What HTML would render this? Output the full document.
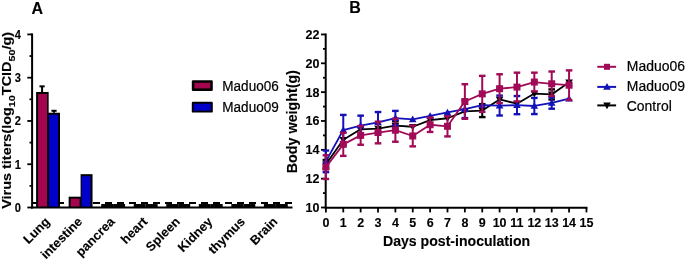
<!DOCTYPE html>
<html><head><meta charset="utf-8"><style>
html,body{margin:0;padding:0;background:#fff;}
svg{will-change:transform;}
text{stroke:#000;stroke-width:0.12px;}
.r{stroke-width:0.2px;}
svg{display:block;}
</style></head><body>
<svg width="685" height="261" viewBox="0 0 685 261">
<rect width="685" height="261" fill="#fff"/>
<line x1="33" y1="203" x2="292" y2="203" stroke="#000" stroke-width="2" stroke-dasharray="7 5"/>
<line x1="42.07" y1="86.34" x2="42.07" y2="91.97" stroke="#000" stroke-width="2"/>
<line x1="39.47" y1="86.34" x2="44.67" y2="86.34" stroke="#000" stroke-width="2"/>
<rect x="36.10" y="91.97" width="12.55" height="115.53" fill="#000"/>
<rect x="38.10" y="93.97" width="8.95" height="113.53" fill="#a3064f"/>
<line x1="54.02" y1="110.79" x2="54.02" y2="112.74" stroke="#000" stroke-width="2"/>
<line x1="51.42" y1="110.79" x2="56.62" y2="110.79" stroke="#000" stroke-width="2"/>
<rect x="48.05" y="112.74" width="11.95" height="94.76" fill="#000"/>
<rect x="49.05" y="114.74" width="8.95" height="92.76" fill="#0000c8"/>
<rect x="68.64" y="196.68" width="12.55" height="10.82" fill="#000"/>
<rect x="70.64" y="198.68" width="8.95" height="8.82" fill="#a3064f"/>
<rect x="80.59" y="174.18" width="11.95" height="33.32" fill="#000"/>
<rect x="81.59" y="176.18" width="8.95" height="31.32" fill="#0000c8"/>
<rect x="101.18" y="204.04" width="11.95" height="3.46" fill="#000"/>
<rect x="113.13" y="204.04" width="11.95" height="3.46" fill="#000"/>
<rect x="133.72" y="204.04" width="11.95" height="3.46" fill="#000"/>
<rect x="145.67" y="204.04" width="11.95" height="3.46" fill="#000"/>
<rect x="166.26" y="204.04" width="11.95" height="3.46" fill="#000"/>
<rect x="178.21" y="204.04" width="11.95" height="3.46" fill="#000"/>
<rect x="198.80" y="204.04" width="11.95" height="3.46" fill="#000"/>
<rect x="210.75" y="204.04" width="11.95" height="3.46" fill="#000"/>
<rect x="231.34" y="204.04" width="11.95" height="3.46" fill="#000"/>
<rect x="243.29" y="204.04" width="11.95" height="3.46" fill="#000"/>
<rect x="263.88" y="204.04" width="11.95" height="3.46" fill="#000"/>
<rect x="275.83" y="204.04" width="11.95" height="3.46" fill="#000"/>
<line x1="32.1" y1="33.41999999999999" x2="32.1" y2="208.5" stroke="#000" stroke-width="2"/>
<line x1="31" y1="207.5" x2="292.5" y2="207.5" stroke="#000" stroke-width="2"/>
<line x1="27.3" y1="207.50" x2="32.1" y2="207.50" stroke="#000" stroke-width="1.8"/>
<text transform="translate(21,212.00) scale(0.87,1.05)" font-family="Liberation Sans" font-weight="bold" font-size="12.8" text-anchor="end">0</text>
<line x1="27.3" y1="164.23" x2="32.1" y2="164.23" stroke="#000" stroke-width="1.8"/>
<text transform="translate(21,168.73) scale(0.87,1.05)" font-family="Liberation Sans" font-weight="bold" font-size="12.8" text-anchor="end">1</text>
<line x1="27.3" y1="120.96" x2="32.1" y2="120.96" stroke="#000" stroke-width="1.8"/>
<text transform="translate(21,125.46) scale(0.87,1.05)" font-family="Liberation Sans" font-weight="bold" font-size="12.8" text-anchor="end">2</text>
<line x1="27.3" y1="77.69" x2="32.1" y2="77.69" stroke="#000" stroke-width="1.8"/>
<text transform="translate(21,82.19) scale(0.87,1.05)" font-family="Liberation Sans" font-weight="bold" font-size="12.8" text-anchor="end">3</text>
<line x1="27.3" y1="34.42" x2="32.1" y2="34.42" stroke="#000" stroke-width="1.8"/>
<text transform="translate(21,38.92) scale(0.87,1.05)" font-family="Liberation Sans" font-weight="bold" font-size="12.8" text-anchor="end">4</text>
<line x1="29.5" y1="185.87" x2="32.1" y2="185.87" stroke="#000" stroke-width="1.8"/>
<line x1="29.5" y1="142.59" x2="32.1" y2="142.59" stroke="#000" stroke-width="1.8"/>
<line x1="29.5" y1="99.32" x2="32.1" y2="99.32" stroke="#000" stroke-width="1.8"/>
<line x1="29.5" y1="56.05" x2="32.1" y2="56.05" stroke="#000" stroke-width="1.8"/>
<text transform="translate(50.55,222.50) rotate(-45)" font-family="Liberation Sans" font-weight="bold" font-size="12.8" text-anchor="end">Lung</text>
<text transform="translate(83.09,222.50) rotate(-45)" font-family="Liberation Sans" font-weight="bold" font-size="12.8" text-anchor="end">intestine</text>
<text transform="translate(115.63,222.50) rotate(-45)" font-family="Liberation Sans" font-weight="bold" font-size="12.8" text-anchor="end">pancrea</text>
<text transform="translate(148.17,222.50) rotate(-45)" font-family="Liberation Sans" font-weight="bold" font-size="12.8" text-anchor="end">heart</text>
<text transform="translate(180.71,222.50) rotate(-45)" font-family="Liberation Sans" font-weight="bold" font-size="12.8" text-anchor="end">Spleen</text>
<text transform="translate(213.25,222.50) rotate(-45)" font-family="Liberation Sans" font-weight="bold" font-size="12.8" text-anchor="end">Kidney</text>
<text transform="translate(245.79,222.50) rotate(-45)" font-family="Liberation Sans" font-weight="bold" font-size="12.8" text-anchor="end">thymus</text>
<text transform="translate(278.33,222.50) rotate(-45)" font-family="Liberation Sans" font-weight="bold" font-size="12.8" text-anchor="end">Brain</text>
<text transform="translate(11.2,208.8) rotate(-90)" font-family="Liberation Sans" font-weight="bold" font-size="12.8" textLength="177" lengthAdjust="spacingAndGlyphs">Virus titers(log<tspan font-size="9.6" dy="3.4">10</tspan><tspan dy="-3.4">TCID</tspan><tspan font-size="9.6" dy="3.4">50</tspan><tspan dy="-3.4">/g)</tspan></text>
<text x="31.5" y="13.9" font-family="Liberation Sans" font-weight="bold" font-size="16">A</text>
<rect x="191.8" y="80.20" width="21" height="10.8" rx="1.2" fill="#000"/>
<rect x="194.40" y="82.80" width="15.80" height="5.60" fill="#a3064f"/>
<text class="r" transform="translate(222.3,90.60) scale(1,1.14)" font-family="Liberation Sans" font-size="13.55">Maduo06</text>
<rect x="191.8" y="101.80" width="21" height="10.8" rx="1.2" fill="#000"/>
<rect x="193.70" y="103.70" width="17.20" height="7.00" fill="#0000c8"/>
<text class="r" transform="translate(222.3,112.20) scale(1,1.14)" font-family="Liberation Sans" font-size="13.55">Maduo09</text>
<line x1="325.7" y1="33.46000000000001" x2="325.7" y2="208.6" stroke="#000" stroke-width="2"/>
<line x1="324.7" y1="207.7" x2="587.45" y2="207.7" stroke="#000" stroke-width="2"/>
<line x1="321" y1="207.50" x2="325.7" y2="207.50" stroke="#000" stroke-width="1.8"/>
<text x="319.5" y="211.90" font-family="Liberation Sans" font-weight="bold" font-size="12.5" text-anchor="end">10</text>
<line x1="321" y1="178.66" x2="325.7" y2="178.66" stroke="#000" stroke-width="1.8"/>
<text x="319.5" y="183.06" font-family="Liberation Sans" font-weight="bold" font-size="12.5" text-anchor="end">12</text>
<line x1="321" y1="149.82" x2="325.7" y2="149.82" stroke="#000" stroke-width="1.8"/>
<text x="319.5" y="154.22" font-family="Liberation Sans" font-weight="bold" font-size="12.5" text-anchor="end">14</text>
<line x1="321" y1="120.98" x2="325.7" y2="120.98" stroke="#000" stroke-width="1.8"/>
<text x="319.5" y="125.38" font-family="Liberation Sans" font-weight="bold" font-size="12.5" text-anchor="end">16</text>
<line x1="321" y1="92.14" x2="325.7" y2="92.14" stroke="#000" stroke-width="1.8"/>
<text x="319.5" y="96.54" font-family="Liberation Sans" font-weight="bold" font-size="12.5" text-anchor="end">18</text>
<line x1="321" y1="63.30" x2="325.7" y2="63.30" stroke="#000" stroke-width="1.8"/>
<text x="319.5" y="67.70" font-family="Liberation Sans" font-weight="bold" font-size="12.5" text-anchor="end">20</text>
<line x1="321" y1="34.46" x2="325.7" y2="34.46" stroke="#000" stroke-width="1.8"/>
<text x="319.5" y="38.86" font-family="Liberation Sans" font-weight="bold" font-size="12.5" text-anchor="end">22</text>
<line x1="323" y1="193.08" x2="325.7" y2="193.08" stroke="#000" stroke-width="1.8"/>
<line x1="323" y1="164.24" x2="325.7" y2="164.24" stroke="#000" stroke-width="1.8"/>
<line x1="323" y1="135.40" x2="325.7" y2="135.40" stroke="#000" stroke-width="1.8"/>
<line x1="323" y1="106.56" x2="325.7" y2="106.56" stroke="#000" stroke-width="1.8"/>
<line x1="323" y1="77.72" x2="325.7" y2="77.72" stroke="#000" stroke-width="1.8"/>
<line x1="323" y1="48.88" x2="325.7" y2="48.88" stroke="#000" stroke-width="1.8"/>
<line x1="325.90" y1="207.7" x2="325.90" y2="212.4" stroke="#000" stroke-width="1.8"/>
<text x="325.90" y="227.3" font-family="Liberation Sans" font-weight="bold" font-size="12.5" text-anchor="middle">0</text>
<line x1="343.27" y1="207.7" x2="343.27" y2="212.4" stroke="#000" stroke-width="1.8"/>
<text x="343.27" y="227.3" font-family="Liberation Sans" font-weight="bold" font-size="12.5" text-anchor="middle">1</text>
<line x1="360.64" y1="207.7" x2="360.64" y2="212.4" stroke="#000" stroke-width="1.8"/>
<text x="360.64" y="227.3" font-family="Liberation Sans" font-weight="bold" font-size="12.5" text-anchor="middle">2</text>
<line x1="378.01" y1="207.7" x2="378.01" y2="212.4" stroke="#000" stroke-width="1.8"/>
<text x="378.01" y="227.3" font-family="Liberation Sans" font-weight="bold" font-size="12.5" text-anchor="middle">3</text>
<line x1="395.38" y1="207.7" x2="395.38" y2="212.4" stroke="#000" stroke-width="1.8"/>
<text x="395.38" y="227.3" font-family="Liberation Sans" font-weight="bold" font-size="12.5" text-anchor="middle">4</text>
<line x1="412.75" y1="207.7" x2="412.75" y2="212.4" stroke="#000" stroke-width="1.8"/>
<text x="412.75" y="227.3" font-family="Liberation Sans" font-weight="bold" font-size="12.5" text-anchor="middle">5</text>
<line x1="430.12" y1="207.7" x2="430.12" y2="212.4" stroke="#000" stroke-width="1.8"/>
<text x="430.12" y="227.3" font-family="Liberation Sans" font-weight="bold" font-size="12.5" text-anchor="middle">6</text>
<line x1="447.49" y1="207.7" x2="447.49" y2="212.4" stroke="#000" stroke-width="1.8"/>
<text x="447.49" y="227.3" font-family="Liberation Sans" font-weight="bold" font-size="12.5" text-anchor="middle">7</text>
<line x1="464.86" y1="207.7" x2="464.86" y2="212.4" stroke="#000" stroke-width="1.8"/>
<text x="464.86" y="227.3" font-family="Liberation Sans" font-weight="bold" font-size="12.5" text-anchor="middle">8</text>
<line x1="482.23" y1="207.7" x2="482.23" y2="212.4" stroke="#000" stroke-width="1.8"/>
<text x="482.23" y="227.3" font-family="Liberation Sans" font-weight="bold" font-size="12.5" text-anchor="middle">9</text>
<line x1="499.60" y1="207.7" x2="499.60" y2="212.4" stroke="#000" stroke-width="1.8"/>
<text x="499.60" y="227.3" font-family="Liberation Sans" font-weight="bold" font-size="12.5" text-anchor="middle">10</text>
<line x1="516.97" y1="207.7" x2="516.97" y2="212.4" stroke="#000" stroke-width="1.8"/>
<text x="516.97" y="227.3" font-family="Liberation Sans" font-weight="bold" font-size="12.5" text-anchor="middle">11</text>
<line x1="534.34" y1="207.7" x2="534.34" y2="212.4" stroke="#000" stroke-width="1.8"/>
<text x="534.34" y="227.3" font-family="Liberation Sans" font-weight="bold" font-size="12.5" text-anchor="middle">12</text>
<line x1="551.71" y1="207.7" x2="551.71" y2="212.4" stroke="#000" stroke-width="1.8"/>
<text x="551.71" y="227.3" font-family="Liberation Sans" font-weight="bold" font-size="12.5" text-anchor="middle">13</text>
<line x1="569.08" y1="207.7" x2="569.08" y2="212.4" stroke="#000" stroke-width="1.8"/>
<text x="569.08" y="227.3" font-family="Liberation Sans" font-weight="bold" font-size="12.5" text-anchor="middle">14</text>
<line x1="586.45" y1="207.7" x2="586.45" y2="212.4" stroke="#000" stroke-width="1.8"/>
<text x="586.45" y="227.3" font-family="Liberation Sans" font-weight="bold" font-size="12.5" text-anchor="middle">15</text>
<text x="456.6" y="246" font-family="Liberation Sans" font-weight="bold" font-size="14.1" text-anchor="middle">Days post-inoculation</text>
<text transform="translate(296.6,173.2) rotate(-90)" font-family="Liberation Sans" font-weight="bold" font-size="14.3">Body weight(g)</text>
<text x="349.2" y="12.9" font-family="Liberation Sans" font-weight="bold" font-size="16">B</text>
<polyline points="325.90,164.24 343.27,139.73 360.64,129.34 378.01,128.62 395.38,125.59 412.75,126.75 430.12,120.11 447.49,118.24 464.86,111.46 482.23,110.60 499.60,99.49 516.97,103.68 534.34,93.58 551.71,94.45 569.08,82.33" fill="none" stroke="#000" stroke-width="1.8" stroke-linejoin="round"/>
<line x1="325.90" y1="159.91" x2="325.90" y2="168.57" stroke="#000" stroke-width="2"/>
<line x1="322.60" y1="159.91" x2="329.20" y2="159.91" stroke="#000" stroke-width="2.4"/>
<line x1="322.60" y1="168.57" x2="329.20" y2="168.57" stroke="#000" stroke-width="2.4"/>
<polygon points="325.90,168.04 329.70,161.39 322.10,161.39" fill="#000"/>
<polygon points="343.27,143.53 347.07,136.88 339.47,136.88" fill="#000"/>
<polygon points="360.64,133.14 364.44,126.49 356.84,126.49" fill="#000"/>
<polygon points="378.01,132.42 381.81,125.77 374.21,125.77" fill="#000"/>
<line x1="395.38" y1="121.27" x2="395.38" y2="129.92" stroke="#000" stroke-width="2"/>
<line x1="392.08" y1="121.27" x2="398.68" y2="121.27" stroke="#000" stroke-width="2.4"/>
<line x1="392.08" y1="129.92" x2="398.68" y2="129.92" stroke="#000" stroke-width="2.4"/>
<polygon points="395.38,129.39 399.18,122.74 391.58,122.74" fill="#000"/>
<polygon points="412.75,130.55 416.55,123.90 408.95,123.90" fill="#000"/>
<polygon points="430.12,123.91 433.92,117.26 426.32,117.26" fill="#000"/>
<polygon points="447.49,122.04 451.29,115.39 443.69,115.39" fill="#000"/>
<polygon points="464.86,115.26 468.66,108.61 461.06,108.61" fill="#000"/>
<line x1="482.23" y1="104.11" x2="482.23" y2="117.09" stroke="#000" stroke-width="2"/>
<line x1="478.93" y1="104.11" x2="485.53" y2="104.11" stroke="#000" stroke-width="2.4"/>
<line x1="478.93" y1="117.09" x2="485.53" y2="117.09" stroke="#000" stroke-width="2.4"/>
<polygon points="482.23,114.40 486.03,107.75 478.43,107.75" fill="#000"/>
<polygon points="499.60,103.29 503.40,96.64 495.80,96.64" fill="#000"/>
<polygon points="516.97,107.48 520.77,100.83 513.17,100.83" fill="#000"/>
<polygon points="534.34,97.38 538.14,90.73 530.54,90.73" fill="#000"/>
<line x1="551.71" y1="89.40" x2="551.71" y2="99.49" stroke="#000" stroke-width="2"/>
<line x1="548.41" y1="89.40" x2="555.01" y2="89.40" stroke="#000" stroke-width="2.4"/>
<line x1="548.41" y1="99.49" x2="555.01" y2="99.49" stroke="#000" stroke-width="2.4"/>
<polygon points="551.71,98.25 555.51,91.60 547.91,91.60" fill="#000"/>
<polygon points="569.08,86.13 572.88,79.48 565.28,79.48" fill="#000"/>
<polyline points="325.90,161.36 343.27,130.06 360.64,125.74 378.01,122.42 395.38,118.10 412.75,119.39 430.12,115.93 447.49,112.47 464.86,109.16 482.23,105.12 499.60,105.55 516.97,105.12 534.34,105.98 551.71,102.95 569.08,98.63" fill="none" stroke="#1212b8" stroke-width="1.8" stroke-linejoin="round"/>
<line x1="325.90" y1="150.54" x2="325.90" y2="172.17" stroke="#1212b8" stroke-width="2"/>
<line x1="322.60" y1="150.54" x2="329.20" y2="150.54" stroke="#1212b8" stroke-width="2.4"/>
<line x1="322.60" y1="172.17" x2="329.20" y2="172.17" stroke="#1212b8" stroke-width="2.4"/>
<polygon points="325.90,157.56 329.70,164.21 322.10,164.21" fill="#1212b8"/>
<line x1="343.27" y1="114.92" x2="343.27" y2="145.21" stroke="#1212b8" stroke-width="2"/>
<line x1="339.97" y1="114.92" x2="346.57" y2="114.92" stroke="#1212b8" stroke-width="2.4"/>
<line x1="339.97" y1="145.21" x2="346.57" y2="145.21" stroke="#1212b8" stroke-width="2.4"/>
<polygon points="343.27,126.26 347.07,132.91 339.47,132.91" fill="#1212b8"/>
<line x1="360.64" y1="115.64" x2="360.64" y2="135.83" stroke="#1212b8" stroke-width="2"/>
<line x1="357.34" y1="115.64" x2="363.94" y2="115.64" stroke="#1212b8" stroke-width="2.4"/>
<line x1="357.34" y1="135.83" x2="363.94" y2="135.83" stroke="#1212b8" stroke-width="2.4"/>
<polygon points="360.64,121.94 364.44,128.59 356.84,128.59" fill="#1212b8"/>
<line x1="378.01" y1="112.04" x2="378.01" y2="132.80" stroke="#1212b8" stroke-width="2"/>
<line x1="374.71" y1="112.04" x2="381.31" y2="112.04" stroke="#1212b8" stroke-width="2.4"/>
<line x1="374.71" y1="132.80" x2="381.31" y2="132.80" stroke="#1212b8" stroke-width="2.4"/>
<polygon points="378.01,118.62 381.81,125.27 374.21,125.27" fill="#1212b8"/>
<line x1="395.38" y1="110.89" x2="395.38" y2="125.31" stroke="#1212b8" stroke-width="2"/>
<line x1="392.08" y1="110.89" x2="398.68" y2="110.89" stroke="#1212b8" stroke-width="2.4"/>
<line x1="392.08" y1="125.31" x2="398.68" y2="125.31" stroke="#1212b8" stroke-width="2.4"/>
<polygon points="395.38,114.30 399.18,120.95 391.58,120.95" fill="#1212b8"/>
<polygon points="412.75,115.59 416.55,122.24 408.95,122.24" fill="#1212b8"/>
<polygon points="430.12,112.13 433.92,118.78 426.32,118.78" fill="#1212b8"/>
<polygon points="447.49,108.67 451.29,115.32 443.69,115.32" fill="#1212b8"/>
<line x1="464.86" y1="100.22" x2="464.86" y2="118.10" stroke="#1212b8" stroke-width="2"/>
<line x1="461.56" y1="100.22" x2="468.16" y2="100.22" stroke="#1212b8" stroke-width="2.4"/>
<line x1="461.56" y1="118.10" x2="468.16" y2="118.10" stroke="#1212b8" stroke-width="2.4"/>
<polygon points="464.86,105.36 468.66,112.01 461.06,112.01" fill="#1212b8"/>
<polygon points="482.23,101.32 486.03,107.97 478.43,107.97" fill="#1212b8"/>
<line x1="499.60" y1="95.60" x2="499.60" y2="115.50" stroke="#1212b8" stroke-width="2"/>
<line x1="496.30" y1="95.60" x2="502.90" y2="95.60" stroke="#1212b8" stroke-width="2.4"/>
<line x1="496.30" y1="115.50" x2="502.90" y2="115.50" stroke="#1212b8" stroke-width="2.4"/>
<polygon points="499.60,101.75 503.40,108.40 495.80,108.40" fill="#1212b8"/>
<line x1="516.97" y1="96.03" x2="516.97" y2="114.20" stroke="#1212b8" stroke-width="2"/>
<line x1="513.67" y1="96.03" x2="520.27" y2="96.03" stroke="#1212b8" stroke-width="2.4"/>
<line x1="513.67" y1="114.20" x2="520.27" y2="114.20" stroke="#1212b8" stroke-width="2.4"/>
<polygon points="516.97,101.32 520.77,107.97 513.17,107.97" fill="#1212b8"/>
<line x1="534.34" y1="97.91" x2="534.34" y2="114.06" stroke="#1212b8" stroke-width="2"/>
<line x1="531.04" y1="97.91" x2="537.64" y2="97.91" stroke="#1212b8" stroke-width="2.4"/>
<line x1="531.04" y1="114.06" x2="537.64" y2="114.06" stroke="#1212b8" stroke-width="2.4"/>
<polygon points="534.34,102.18 538.14,108.83 530.54,108.83" fill="#1212b8"/>
<line x1="551.71" y1="97.19" x2="551.71" y2="108.72" stroke="#1212b8" stroke-width="2"/>
<line x1="548.41" y1="97.19" x2="555.01" y2="97.19" stroke="#1212b8" stroke-width="2.4"/>
<line x1="548.41" y1="108.72" x2="555.01" y2="108.72" stroke="#1212b8" stroke-width="2.4"/>
<polygon points="551.71,99.16 555.51,105.80 547.91,105.80" fill="#1212b8"/>
<polygon points="569.08,94.83 572.88,101.48 565.28,101.48" fill="#1212b8"/>
<polyline points="325.90,167.12 343.27,144.34 360.64,135.40 378.01,132.52 395.38,130.21 412.75,135.98 430.12,124.73 447.49,126.32 464.86,101.51 482.23,93.87 499.60,88.68 516.97,87.09 534.34,82.05 551.71,83.78 569.08,85.22" fill="none" stroke="#a00a56" stroke-width="1.8" stroke-linejoin="round"/>
<line x1="325.90" y1="155.30" x2="325.90" y2="178.95" stroke="#a00a56" stroke-width="2"/>
<line x1="322.60" y1="155.30" x2="329.20" y2="155.30" stroke="#a00a56" stroke-width="2.4"/>
<line x1="322.60" y1="178.95" x2="329.20" y2="178.95" stroke="#a00a56" stroke-width="2.4"/>
<rect x="322.40" y="163.62" width="7.00" height="7.00" fill="#a00a56"/>
<line x1="343.27" y1="132.80" x2="343.27" y2="155.88" stroke="#a00a56" stroke-width="2"/>
<line x1="339.97" y1="132.80" x2="346.57" y2="132.80" stroke="#a00a56" stroke-width="2.4"/>
<line x1="339.97" y1="155.88" x2="346.57" y2="155.88" stroke="#a00a56" stroke-width="2.4"/>
<rect x="339.77" y="140.84" width="7.00" height="7.00" fill="#a00a56"/>
<line x1="360.64" y1="126.03" x2="360.64" y2="144.77" stroke="#a00a56" stroke-width="2"/>
<line x1="357.34" y1="126.03" x2="363.94" y2="126.03" stroke="#a00a56" stroke-width="2.4"/>
<line x1="357.34" y1="144.77" x2="363.94" y2="144.77" stroke="#a00a56" stroke-width="2.4"/>
<rect x="357.14" y="131.90" width="7.00" height="7.00" fill="#a00a56"/>
<line x1="378.01" y1="121.70" x2="378.01" y2="143.33" stroke="#a00a56" stroke-width="2"/>
<line x1="374.71" y1="121.70" x2="381.31" y2="121.70" stroke="#a00a56" stroke-width="2.4"/>
<line x1="374.71" y1="143.33" x2="381.31" y2="143.33" stroke="#a00a56" stroke-width="2.4"/>
<rect x="374.51" y="129.02" width="7.00" height="7.00" fill="#a00a56"/>
<line x1="395.38" y1="118.67" x2="395.38" y2="141.74" stroke="#a00a56" stroke-width="2"/>
<line x1="392.08" y1="118.67" x2="398.68" y2="118.67" stroke="#a00a56" stroke-width="2.4"/>
<line x1="392.08" y1="141.74" x2="398.68" y2="141.74" stroke="#a00a56" stroke-width="2.4"/>
<rect x="391.88" y="126.71" width="7.00" height="7.00" fill="#a00a56"/>
<line x1="412.75" y1="125.59" x2="412.75" y2="146.36" stroke="#a00a56" stroke-width="2"/>
<line x1="409.45" y1="125.59" x2="416.05" y2="125.59" stroke="#a00a56" stroke-width="2.4"/>
<line x1="409.45" y1="146.36" x2="416.05" y2="146.36" stroke="#a00a56" stroke-width="2.4"/>
<rect x="409.25" y="132.48" width="7.00" height="7.00" fill="#a00a56"/>
<line x1="430.12" y1="117.52" x2="430.12" y2="131.94" stroke="#a00a56" stroke-width="2"/>
<line x1="426.82" y1="117.52" x2="433.42" y2="117.52" stroke="#a00a56" stroke-width="2.4"/>
<line x1="426.82" y1="131.94" x2="433.42" y2="131.94" stroke="#a00a56" stroke-width="2.4"/>
<rect x="426.62" y="121.23" width="7.00" height="7.00" fill="#a00a56"/>
<line x1="447.49" y1="116.22" x2="447.49" y2="136.41" stroke="#a00a56" stroke-width="2"/>
<line x1="444.19" y1="116.22" x2="450.79" y2="116.22" stroke="#a00a56" stroke-width="2.4"/>
<line x1="444.19" y1="136.41" x2="450.79" y2="136.41" stroke="#a00a56" stroke-width="2.4"/>
<rect x="443.99" y="122.82" width="7.00" height="7.00" fill="#a00a56"/>
<line x1="464.86" y1="84.21" x2="464.86" y2="118.82" stroke="#a00a56" stroke-width="2"/>
<line x1="461.56" y1="84.21" x2="468.16" y2="84.21" stroke="#a00a56" stroke-width="2.4"/>
<line x1="461.56" y1="118.82" x2="468.16" y2="118.82" stroke="#a00a56" stroke-width="2.4"/>
<rect x="461.36" y="98.01" width="7.00" height="7.00" fill="#a00a56"/>
<line x1="482.23" y1="75.85" x2="482.23" y2="111.90" stroke="#a00a56" stroke-width="2"/>
<line x1="478.93" y1="75.85" x2="485.53" y2="75.85" stroke="#a00a56" stroke-width="2.4"/>
<line x1="478.93" y1="111.90" x2="485.53" y2="111.90" stroke="#a00a56" stroke-width="2.4"/>
<rect x="478.73" y="90.37" width="7.00" height="7.00" fill="#a00a56"/>
<line x1="499.60" y1="74.26" x2="499.60" y2="103.10" stroke="#a00a56" stroke-width="2"/>
<line x1="496.30" y1="74.26" x2="502.90" y2="74.26" stroke="#a00a56" stroke-width="2.4"/>
<line x1="496.30" y1="103.10" x2="502.90" y2="103.10" stroke="#a00a56" stroke-width="2.4"/>
<rect x="496.10" y="85.18" width="7.00" height="7.00" fill="#a00a56"/>
<line x1="516.97" y1="72.67" x2="516.97" y2="101.51" stroke="#a00a56" stroke-width="2"/>
<line x1="513.67" y1="72.67" x2="520.27" y2="72.67" stroke="#a00a56" stroke-width="2.4"/>
<line x1="513.67" y1="101.51" x2="520.27" y2="101.51" stroke="#a00a56" stroke-width="2.4"/>
<rect x="513.47" y="83.59" width="7.00" height="7.00" fill="#a00a56"/>
<line x1="534.34" y1="72.67" x2="534.34" y2="91.42" stroke="#a00a56" stroke-width="2"/>
<line x1="531.04" y1="72.67" x2="537.64" y2="72.67" stroke="#a00a56" stroke-width="2.4"/>
<line x1="531.04" y1="91.42" x2="537.64" y2="91.42" stroke="#a00a56" stroke-width="2.4"/>
<rect x="530.84" y="78.55" width="7.00" height="7.00" fill="#a00a56"/>
<line x1="551.71" y1="71.52" x2="551.71" y2="96.03" stroke="#a00a56" stroke-width="2"/>
<line x1="548.41" y1="71.52" x2="555.01" y2="71.52" stroke="#a00a56" stroke-width="2.4"/>
<line x1="548.41" y1="96.03" x2="555.01" y2="96.03" stroke="#a00a56" stroke-width="2.4"/>
<rect x="548.21" y="80.28" width="7.00" height="7.00" fill="#a00a56"/>
<line x1="569.08" y1="70.37" x2="569.08" y2="100.07" stroke="#a00a56" stroke-width="2"/>
<line x1="565.78" y1="70.37" x2="572.38" y2="70.37" stroke="#a00a56" stroke-width="2.4"/>
<line x1="565.78" y1="100.07" x2="572.38" y2="100.07" stroke="#a00a56" stroke-width="2.4"/>
<rect x="565.58" y="81.72" width="7.00" height="7.00" fill="#a00a56"/>
<line x1="597.3" y1="66.8" x2="616.1" y2="66.8" stroke="#a00a56" stroke-width="2"/>
<rect x="604.00" y="63.80" width="6.00" height="6.00" fill="#a00a56"/>
<text class="r" x="626.8" y="70.6" font-family="Liberation Sans" font-size="13.95">Maduo06</text>
<line x1="597.3" y1="86.9" x2="616.1" y2="86.9" stroke="#1212b8" stroke-width="2"/>
<polygon points="607.00,83.10 610.80,89.75 603.20,89.75" fill="#1212b8"/>
<text class="r" x="626.8" y="91.0" font-family="Liberation Sans" font-size="13.95">Maduo09</text>
<line x1="597.3" y1="105.4" x2="616.1" y2="105.4" stroke="#000" stroke-width="2"/>
<polygon points="607.00,109.20 610.80,102.55 603.20,102.55" fill="#000"/>
<text class="r" x="626.8" y="111.0" font-family="Liberation Sans" font-size="13.95">Control</text>
</svg>
</body></html>
